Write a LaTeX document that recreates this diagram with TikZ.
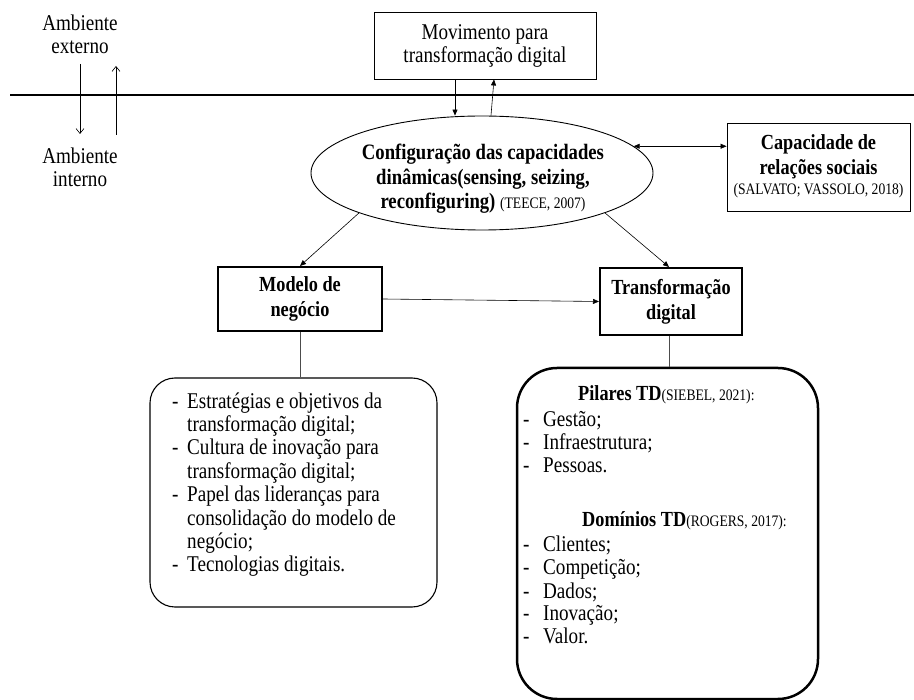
\documentclass[tikz,border=0pt]{standalone}
\usepackage{fontspec}
\setmainfont{Liberation Serif}[FakeStretch=0.85]
\usetikzlibrary{arrows.meta,shapes.geometric}
\newcommand\citesm[1]{{\fontsize{16}{18}\selectfont\mdseries #1}}
\newcommand\dashA{\makebox[15pt][l]{-}}
\newcommand\dashB{\makebox[20pt][l]{-}}
\begin{document}
\begin{tikzpicture}[x=1pt,y=-1pt,
  reg/.style={font=\fontsize{22.5}{23}\selectfont, inner sep=0pt},
  bld/.style={font=\fontsize{21.5}{25}\selectfont\bfseries, inner sep=0pt},
  ebld/.style={font=\fontsize{22}{24.5}\selectfont\bfseries, inner sep=0pt},
  thinbox/.style={draw=black, line width=0.9pt},
  thickbox/.style={draw=black, line width=2pt},
  conn/.style={draw=black, line width=0.6pt},
  arr/.style={conn, -{Triangle[length=6pt,width=5pt]}},
  darr/.style={conn, {Triangle[length=6pt,width=5pt]}-{Triangle[length=6pt,width=5pt]}},
  openarr/.style={conn, -{Straight Barb[length=5pt,width=8pt]}},
  stem/.style={draw=black!70, line width=0.9pt}
]
\useasboundingbox (0,0) rectangle (914,700);

% environment labels and boundary
\node[reg, align=center] (ext) at (80,34) {Ambiente\\externo};
\node[reg, align=center] (int) at (80,167) {Ambiente\\interno};
\coordinate (d1) at (80,64);
\coordinate (d2) at (80,134);
\coordinate (u1) at (116,135);
\coordinate (u2) at (116,66);
\draw[openarr] (d1) -- (d2);
\draw[openarr] (u1) -- (u2);
\coordinate (L1) at (10,95);
\coordinate (L2) at (914,95);
\draw[line width=1.5pt] (L1) -- (L2);

% top box
\node[thinbox, reg, align=center, minimum width=222pt, minimum height=67pt] (mov) at (485,45.5)
  {Movimento para\\transformação digital};

% ellipse
\node[draw=black, line width=0.9pt, ellipse, inner sep=0pt, minimum width=342pt, minimum height=114pt] (cfg) at (482,173) {};
\node[ebld, align=center] (cfgt) at (483,179)
  {Configuração das capacidades\\dinâmicas(sensing, seizing,\\reconfiguring) \citesm{(TEECE, 2007)}};

\draw[arr] ([xshift=-30pt]mov.south) -- ([xshift=-30pt]mov.south |- cfg.north);
\draw[arr] ([xshift=9pt]cfg.north) -- ([xshift=9pt]mov.south);

% social relations box
\node[thinbox, minimum width=183pt, minimum height=88pt] (soc) at (818.5,167) {};
\node[bld, align=center] (soct) at (818.5,166)
  {Capacidade de\\relações sociais\\[-5pt]\citesm{(SALVATO; VASSOLO, 2018)}};
\draw[darr] (cfg.10) -- (cfg.10 -| soc.west);

% model and transformation boxes
\node[thickbox, bld, align=center, minimum width=164pt, minimum height=64pt] (mod) at (300,299)
  {Modelo de\\negócio};
\node[thickbox, bld, align=center, minimum width=142pt, minimum height=67pt] (tra) at (671,301.5)
  {Transformação\\digital};

\draw[arr] (cfg.198) -- (mod.north);
\draw[arr] (cfg.342) -- ([xshift=-2pt]tra.north);
\draw[arr] (mod.east) -- (tra.west);

% rounded boxes
\node[draw=black, line width=1.1pt, rounded corners=25pt, minimum width=287pt, minimum height=229pt] (lb) at (293.5,492.5) {};
\node[draw=black, line width=2.5pt, rounded corners=40pt, minimum width=301pt, minimum height=331pt] (rb) at (667.5,533.5) {};

\draw[stem] (mod.south) -- (mod.south |- lb.north);
\draw[stem] ([xshift=-2pt]tra.south) -- ([xshift=-2pt]tra.south |- rb.north);

% left list
\node[reg, anchor=base west] (la1) at (172,409) {\dashA Estratégias e objetivos da};
\node[reg, anchor=base west] (la2) at (172,432) {\hspace*{15pt}transformação digital;};
\node[reg, anchor=base west] (la3) at (172,455) {\dashA Cultura de inovação para};
\node[reg, anchor=base west] (la4) at (172,479) {\hspace*{15pt}transformação digital;};
\node[reg, anchor=base west] (la5) at (172,502) {\dashA Papel das lideranças para};
\node[reg, anchor=base west] (la6) at (172,526) {\hspace*{15pt}consolidação do modelo de};
\node[reg, anchor=base west] (la7) at (172,549) {\hspace*{15pt}negócio;};
\node[reg, anchor=base west] (la8) at (172,572) {\dashA Tecnologias digitais.};

% right list
\node[bld, anchor=base west] (rh1) at (578,401) {Pilares TD\citesm{(SIEBEL, 2021):}};
\node[reg, anchor=base west] (rb1) at (523,427) {\dashB Gestão;};
\node[reg, anchor=base west] (rb2) at (523,450) {\dashB Infraestrutura;};
\node[reg, anchor=base west] (rb3) at (523,473) {\dashB Pessoas.};
\node[bld, anchor=base west] (rh2) at (582,527) {Domínios TD\citesm{(ROGERS, 2017):}};
\node[reg, anchor=base west] (rc1) at (523,552) {\dashB Clientes;};
\node[reg, anchor=base west] (rc2) at (523,575) {\dashB Competição;};
\node[reg, anchor=base west] (rc3) at (523,598) {\dashB Dados;};
\node[reg, anchor=base west] (rc4) at (523,621) {\dashB Inovação;};
\node[reg, anchor=base west] (rc5) at (523,644) {\dashB Valor.};
\end{tikzpicture}
\end{document}
